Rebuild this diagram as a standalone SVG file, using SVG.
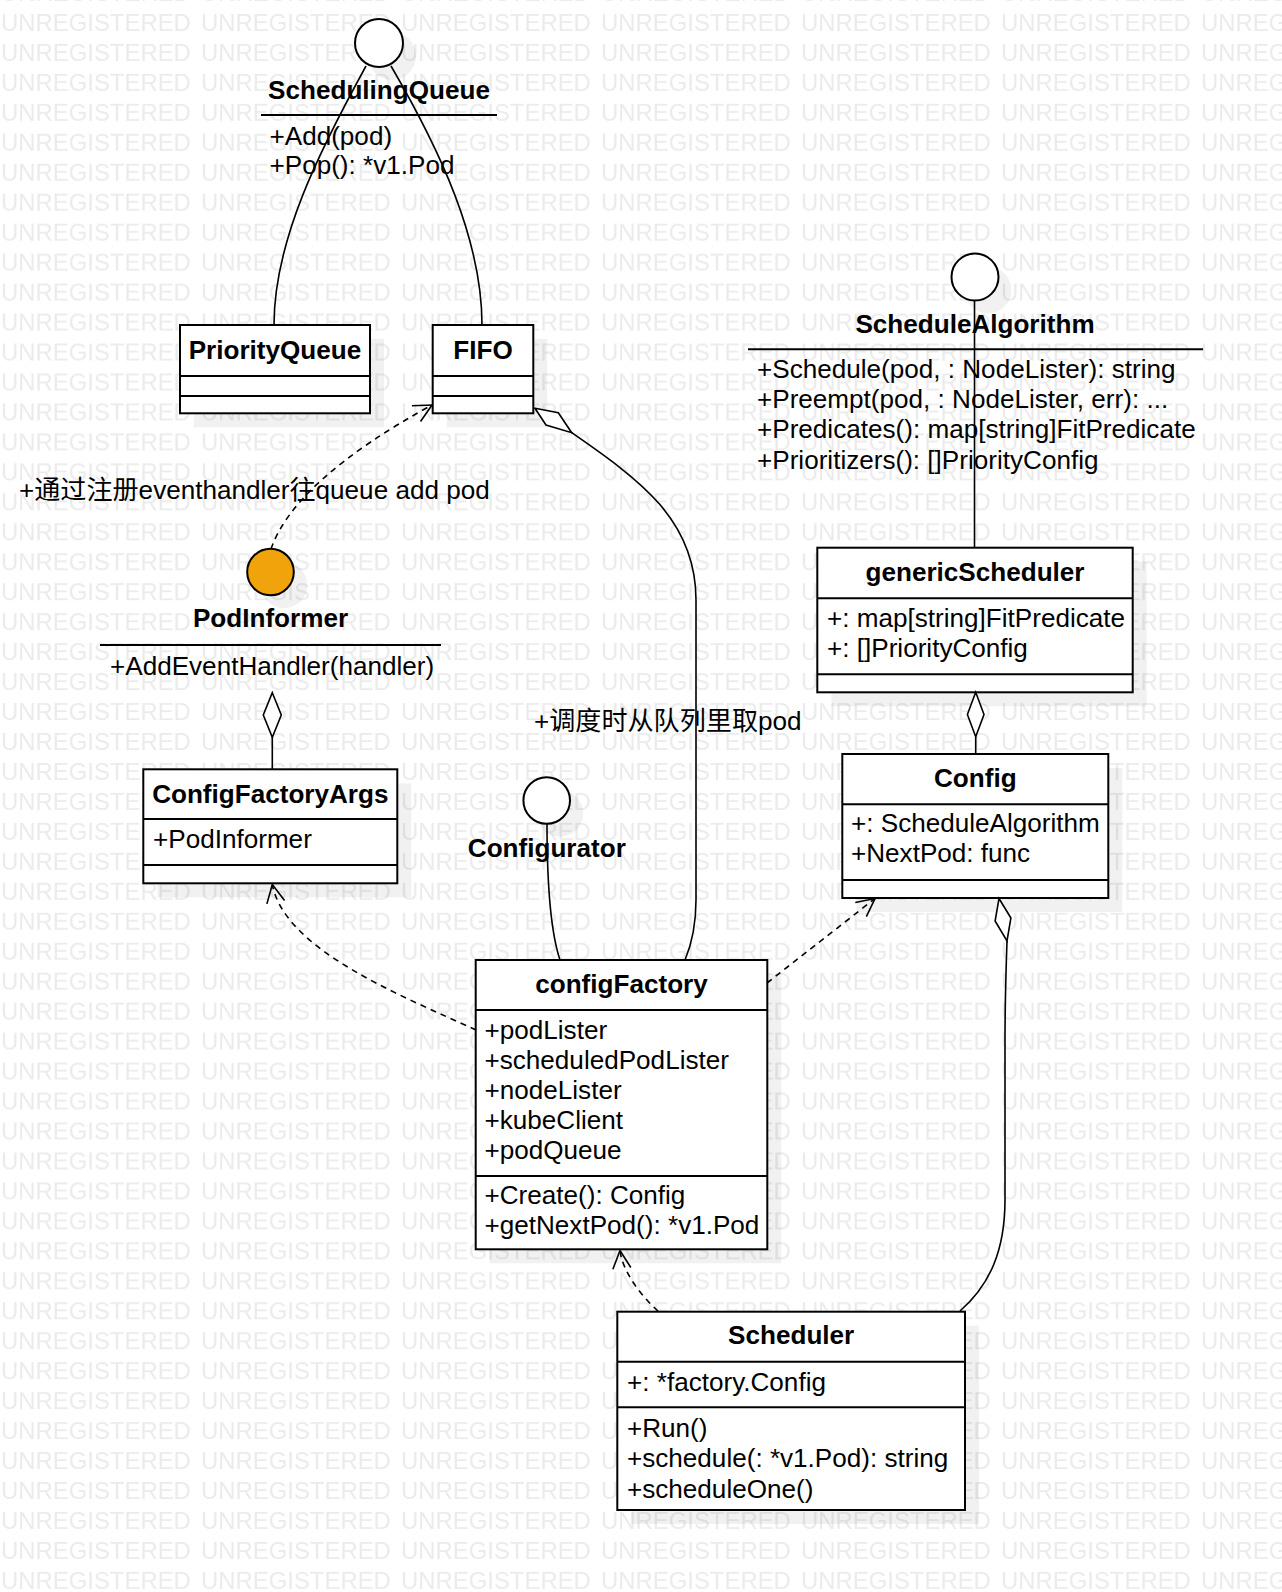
<svg xmlns="http://www.w3.org/2000/svg" width="1282" height="1592" viewBox="0 0 1282 1592">
<style>
.wm{font-family:"Liberation Sans",Arial,sans-serif;font-size:23.9px;fill:#ebebeb}
.t{font-family:"Liberation Sans","Noto Sans CJK SC",Arial,sans-serif;font-size:26.1px;fill:#000}
.b{font-weight:bold;text-anchor:middle}
.box{fill:#fff;stroke:#000;stroke-width:2}
.sep{stroke:#000;stroke-width:2}
.sh{fill:#000;fill-opacity:0.055}
.ln{fill:none;stroke:#000;stroke-width:1.6}
.dash{stroke-dasharray:6 5}
.ci{fill:#fff;stroke:#000;stroke-width:2}
.dia{fill:#fff;stroke:#000;stroke-width:1.6;stroke-linejoin:miter}
</style>
<defs>
<pattern id="wm" patternUnits="userSpaceOnUse" x="0" y="2" width="200" height="29.96">
<text x="1" y="29" class="wm">UNREGISTERED</text>
</pattern>
<marker id="open" markerUnits="userSpaceOnUse" markerWidth="26" markerHeight="26" viewBox="-22 -13 26 26" refX="0" refY="0" orient="auto">
<path d="M-18,-9 L0,0 L-18,9" fill="none" stroke="#000" stroke-width="1.6"/>
</marker>
</defs>
<rect x="0" y="0" width="1282" height="1592" fill="#fff"/>
<rect id="watermark" x="0" y="0" width="1282" height="1592" fill="url(#wm)"/>

<g id="shadows">
<circle class="sh" cx="392" cy="56" r="24"/>
<circle class="sh" cx="988" cy="290" r="23.5"/>
<circle class="sh" cx="284" cy="585" r="23.3"/>
<circle class="sh" cx="560" cy="813.5" r="23.3"/>
<rect class="sh" x="194" y="339" width="190" height="88.3"/>
<rect class="sh" x="446.7" y="339" width="100.6" height="88.3"/>
<rect class="sh" x="831.3" y="561.7" width="315.4" height="144.6"/>
<rect class="sh" x="856.3" y="768" width="266" height="144"/>
<rect class="sh" x="157.3" y="783.3" width="254" height="114"/>
<rect class="sh" x="489.7" y="974" width="291.6" height="289.3"/>
<rect class="sh" x="631.3" y="1325.7" width="347.7" height="198.3"/>
</g>

<g id="SchedulingQueue">
<circle class="ci" cx="379" cy="43" r="24"/>
<text class="t b" x="379" y="99">SchedulingQueue</text>
<line class="sep" x1="261" y1="115" x2="497" y2="115"/>
<text class="t" x="269.5" y="144.5">+Add(pod)</text>
<text class="t" x="269.5" y="174">+Pop(): *v1.Pod</text>
</g>

<g id="ScheduleAlgorithm">
<circle class="ci" cx="975" cy="277" r="23.5"/>
<text class="t b" x="975" y="332.7">ScheduleAlgorithm</text>
<line class="sep" x1="748" y1="349.3" x2="1203" y2="349.3"/>
<text class="t" x="757" y="378">+Schedule(pod, : NodeLister): string</text>
<text class="t" x="757" y="408.2">+Preempt(pod, : NodeLister, err): ...</text>
<text class="t" x="757" y="438.4">+Predicates(): map[string]FitPredicate</text>
<text class="t" x="757" y="468.6">+Prioritizers(): []PriorityConfig</text>
</g>

<g id="PodInformer">
<circle cx="270.5" cy="572" r="23.3" fill="#f0a30a" stroke="#000" stroke-width="2"/>
<text class="t b" x="270.5" y="626.7">PodInformer</text>
<line class="sep" x1="100" y1="645" x2="441" y2="645"/>
<text class="t" x="110" y="674.5">+AddEventHandler(handler)</text>
</g>

<g id="Configurator">
<circle class="ci" cx="546.7" cy="800.5" r="23.3"/>
<text class="t b" x="546.8" y="856.7">Configurator</text>
</g>

<g id="PriorityQueue">
<rect class="box" x="180" y="325" width="190" height="88.3"/>
<line class="sep" x1="180" y1="376" x2="370" y2="376"/>
<line class="sep" x1="180" y1="396" x2="370" y2="396"/>
<text class="t b" x="275" y="359.3">PriorityQueue</text>
</g>

<g id="FIFO">
<rect class="box" x="432.7" y="325" width="100.6" height="88.3"/>
<line class="sep" x1="432.7" y1="376" x2="533.3" y2="376"/>
<line class="sep" x1="432.7" y1="396" x2="533.3" y2="396"/>
<text class="t b" x="483" y="359.3">FIFO</text>
</g>

<g id="genericScheduler">
<rect class="box" x="817.3" y="547.7" width="315.4" height="144.6"/>
<line class="sep" x1="817.3" y1="598.3" x2="1132.7" y2="598.3"/>
<line class="sep" x1="817.3" y1="674.3" x2="1132.7" y2="674.3"/>
<text class="t b" x="975" y="580.7">genericScheduler</text>
<text class="t" x="827" y="626.7">+: map[string]FitPredicate</text>
<text class="t" x="827" y="656.7">+: []PriorityConfig</text>
</g>

<g id="Config">
<rect class="box" x="842.3" y="754" width="266" height="144"/>
<line class="sep" x1="842.3" y1="804.3" x2="1108.3" y2="804.3"/>
<line class="sep" x1="842.3" y1="880" x2="1108.3" y2="880"/>
<text class="t b" x="975.3" y="786.7">Config</text>
<text class="t" x="851" y="831.7">+: ScheduleAlgorithm</text>
<text class="t" x="851" y="861.7">+NextPod: func</text>
</g>

<g id="ConfigFactoryArgs">
<rect class="box" x="143.3" y="769.3" width="254" height="114"/>
<line class="sep" x1="143.3" y1="819" x2="397.3" y2="819"/>
<line class="sep" x1="143.3" y1="865" x2="397.3" y2="865"/>
<text class="t b" x="270.3" y="802.7">ConfigFactoryArgs</text>
<text class="t" x="153" y="848.3">+PodInformer</text>
</g>

<g id="configFactory">
<rect class="box" x="475.7" y="960" width="291.6" height="289.3"/>
<line class="sep" x1="475.7" y1="1010" x2="767.3" y2="1010"/>
<line class="sep" x1="475.7" y1="1176" x2="767.3" y2="1176"/>
<text class="t b" x="621.5" y="992.5">configFactory</text>
<text class="t" x="484.5" y="1039.3">+podLister</text>
<text class="t" x="484.5" y="1069.2">+scheduledPodLister</text>
<text class="t" x="484.5" y="1099.1">+nodeLister</text>
<text class="t" x="484.5" y="1129">+kubeClient</text>
<text class="t" x="484.5" y="1158.8">+podQueue</text>
<text class="t" x="484.5" y="1204.3">+Create(): Config</text>
<text class="t" x="484.5" y="1233.5">+getNextPod(): *v1.Pod</text>
</g>

<g id="Scheduler">
<rect class="box" x="617.3" y="1311.7" width="347.7" height="198.3"/>
<line class="sep" x1="617.3" y1="1361.7" x2="965" y2="1361.7"/>
<line class="sep" x1="617.3" y1="1407.3" x2="965" y2="1407.3"/>
<text class="t b" x="791.2" y="1344">Scheduler</text>
<text class="t" x="627" y="1390.7">+: *factory.Config</text>
<text class="t" x="627" y="1436.7">+Run()</text>
<text class="t" x="627" y="1467.2">+schedule(: *v1.Pod): string</text>
<text class="t" x="627" y="1497.7">+scheduleOne()</text>
</g>

<g id="connectors">
<path class="ln" d="M366,66 C320,150 274,240 274,325"/>
<path class="ln" d="M391,66 C440,150 482,240 482,325"/>
<path class="ln" d="M974.5,300.5 L974.5,547.7"/>
<path class="ln dash" d="M271,549 Q295,480 432,405" marker-end="url(#open)"/>
<polygon class="dia" points="975.7,692.3 984,714.5 975.7,736.7 967.4,714.5"/>
<path class="ln" d="M975.7,736.7 L975.7,754"/>
<polygon class="dia" points="272.3,692.7 281.3,715 272.3,737.3 263.3,715"/>
<path class="ln" d="M272.3,737.3 L272.3,769.3"/>
<polygon class="dia" points="535,408.3 558.3,412.7 571.7,432.7 546,425"/>
<path class="ln" d="M571.7,432.7 C640,480 696,520 696,600 L696,900 C696,930 690,948 685,960"/>
<path class="ln" d="M547,824 C547,880 550,930 560,960"/>
<path class="ln dash" d="M476,1030 C400,995 285,950 272.3,884.5" marker-end="url(#open)"/>
<path class="ln dash" d="M767,983 L875,898.5" marker-end="url(#open)"/>
<path class="ln dash" d="M658,1311 C640,1295 622,1270 620,1250.5" marker-end="url(#open)"/>
<polygon class="dia" points="999,898.5 1010.9,918 1007,941 995.1,921"/>
<path class="ln" d="M1007,941 C1006,970 1005,1000 1005,1040 L1005,1200 C1005,1250 990,1285 960,1311"/>
<text class="t" x="19" y="499">+通过注册eventhandler往queue add pod</text>
<text class="t" x="534" y="730">+调度时从队列里取pod</text>
</g>
</svg>
